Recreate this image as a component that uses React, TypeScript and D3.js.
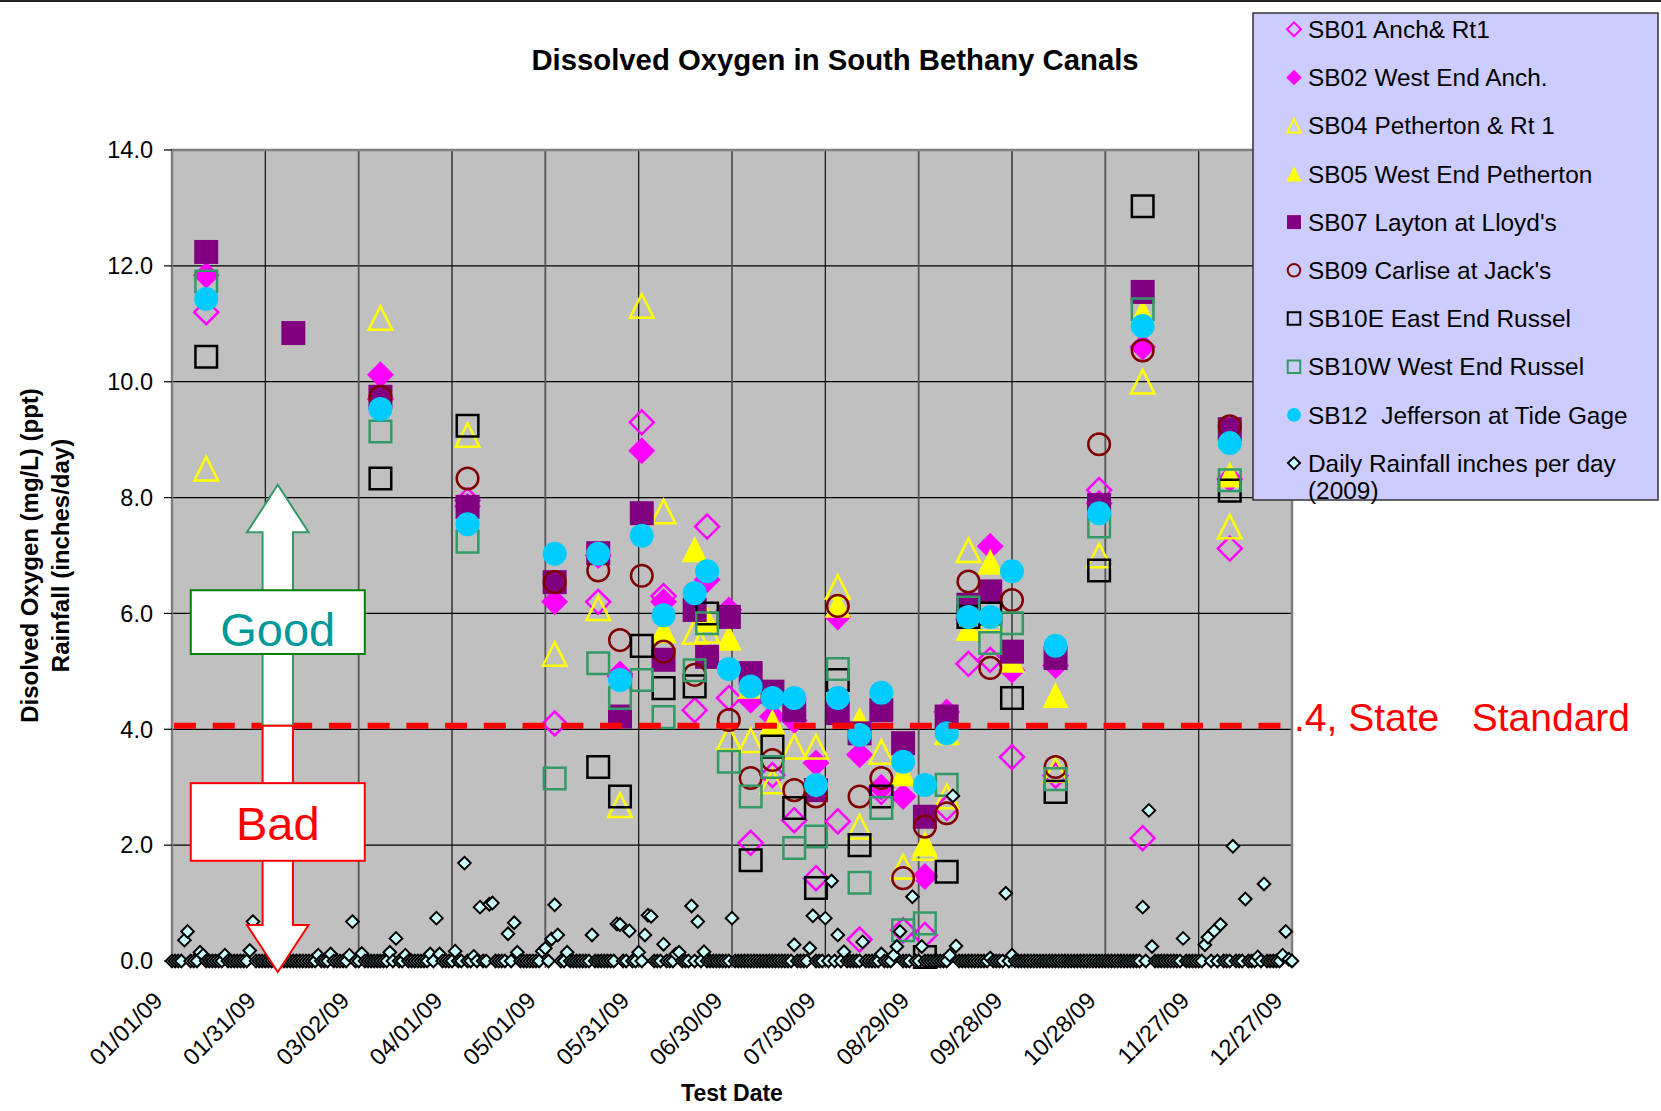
import { useEffect, useRef } from "react";
import * as d3 from "d3";

const WIDTH = 1661;
const HEIGHT = 1111;

// canal sampling dates
const sampleDates = [
  "2009-01-12", "2009-02-09", "2009-03-09", "2009-04-06", "2009-05-04",
  "2009-05-18", "2009-05-25", "2009-06-01", "2009-06-08", "2009-06-18",
  "2009-06-22", "2009-06-29", "2009-07-06", "2009-07-13", "2009-07-20",
  "2009-07-27", "2009-08-03", "2009-08-10", "2009-08-17", "2009-08-24",
  "2009-08-31", "2009-09-07", "2009-09-14", "2009-09-21", "2009-09-28",
  "2009-10-12", "2009-10-26", "2009-11-09", "2009-12-07",
];

// dissolved oxygen, mg/L (null = no reading)
const sb01 = [11.2, null, 9.7, 7.95, 4.1, 6.2, 4.95, 9.3, 6.3, 4.33, 7.5, 4.54, 2.04, 3.21, 2.43, 1.43, 2.41, 0.37, 2.92, 0.53, 0.45, 2.64, 5.13, 5.2, 3.52, 3.2, 8.13, 2.12, 7.12];
const sb02 = [11.84, null, 10.12, 7.85, 6.2, 7.0, 4.91, 8.81, 6.2, null, 6.58, 6.06, 4.5, 4.22, 4.15, 3.42, 5.94, 3.56, 3.0, 2.84, 1.46, 4.3, 5.9, 7.16, 5.02, 5.1, 7.9, 10.6, 8.32];
const sb04 = [8.5, null, 11.1, 9.08, 5.3, 6.09, 2.69, 11.31, 7.76, 5.68, 5.7, 3.85, 3.81, 3.1, 3.7, 3.7, 6.46, 2.32, 3.61, 1.63, 1.95, 2.84, 7.09, 5.9, null, 3.3, 7.0, 10.0, 7.5];
const sb05 = [null, null, null, null, null, null, null, null, 5.71, 7.11, 5.9, 5.58, 4.75, 4.13, null, null, 6.15, 4.16, 4.35, 3.24, 2.03, 3.95, 5.75, 6.89, 5.2, 4.59, null, 11.2, 8.4];
const sb07 = [12.24, 10.84, 9.74, 7.84, 6.54, 7.04, 4.22, 7.73, 5.2, 6.06, 5.25, 5.94, 4.97, 4.65, 4.33, 2.95, 4.28, 3.93, 4.33, 3.76, 2.49, 4.22, 6.15, 6.38, 5.34, 5.23, 7.87, 11.55, 9.18];
const sb09 = [null, null, 9.74, 8.33, 6.54, 6.74, 5.54, 6.65, 5.34, 4.94, null, 4.16, 3.16, 3.47, 2.95, 2.84, 6.13, 2.84, 3.16, 1.43, 2.32, 2.55, 6.55, 5.06, 6.23, 3.35, 8.92, 10.54, 9.23];
const sb10e = [10.43, null, 8.33, 9.24, null, 3.35, 2.84, 5.44, 4.71, 4.74, 6.0, null, 1.74, 3.7, 2.64, 1.26, 4.85, 2.0, 2.84, null, 0.07, 1.54, 5.94, 6.0, 4.54, 2.92, 6.74, 13.03, 8.12];
const sb10w = [11.73, null, 9.14, 7.24, 3.15, 5.14, 4.54, 4.85, 4.21, 5.02, 5.83, 3.44, 2.84, 3.35, 1.95, 2.15, 5.04, 1.35, 2.64, 0.53, 0.65, 3.04, 6.1, 5.49, 5.83, 3.14, 7.5, 11.25, 8.3];
const sb12 = [11.43, null, 9.53, 7.54, 7.03, 7.03, 4.85, 7.34, 5.97, 6.35, 6.73, 5.04, 4.74, 4.54, 4.54, 3.04, 4.54, 3.9, 4.63, 3.44, 3.04, 3.93, 5.94, 5.94, 6.73, 5.44, 7.73, 10.96, 8.94];

// daily rainfall 2009, inches per day, one array per month
const rainJan = [0, 0, 0, 0, 0.36, 0.51, 0, 0, 0, 0.15, 0.1, 0, 0, 0, 0, 0, 0, 0.1, 0, 0, 0, 0, 0, 0, 0, 0.18, 0.68, 0, 0, 0, 0];
const rainFeb = [0, 0, 0, 0, 0, 0, 0, 0, 0, 0, 0, 0, 0, 0, 0, 0, 0.1, 0, 0, 0, 0.12, 0, 0, 0, 0, 0, 0.1, 0.68];
const rainMar = [0, 0, 0.13, 0, 0, 0, 0, 0, 0, 0, 0, 0.15, 0, 0.39, 0, 0, 0.1, 0, 0, 0, 0, 0, 0, 0, 0.12, 0, 0.74, 0.12, 0, 0, 0];
const rainApr = [0, 0.17, 0, 0, 1.69, 0, 0, 0.08, 0, 0.93, 0, 0, 0.98, 1.0, 0, 0, 0, 0, 0.47, 0, 0.66, 0.15, 0, 0, 0, 0, 0, 0, 0, 0.17];
const rainMay = [0.22, 0, 0.38, 0.97, 0.45, 0, 0, 0.15, 0, 0, 0, 0, 0, 0, 0, 0.45, 0, 0, 0, 0, 0, 0, 0, 0.64, 0.63, 0, 0, 0.52, 0, 0, 0.15];
const rainJun = [0, 0.45, 0.79, 0.77, 0, 0, 0, 0.29, 0, 0, 0, 0.12, 0.15, 0, 0, 0, 0.95, 0, 0.68, 0, 0.16, 0, 0, 0, 0, 0, 0, 0, 0, 0.74];
const rainJul = [0, 0, 0, 0, 0, 0, 0, 0, 0, 0, 0, 0, 0, 0, 0, 0, 0, 0, 0, 0.28, 0, 0, 0, 0, 0.22, 0.78, 0, 0, 0, 0.74, 0];
const rainAug = [1.38, 0, 0.45, 0, 0.16, 0, 0, 0, 0, 0, 0.33, 0, 0, 0, 0, 0, 0.12, 0, 0, 0, 0.1, 0.25, 0.51, 0, 0, 0, 1.11, 0, 0, 0.25, 0];
const rainSep = [0, 0, 0, 0, 0, 0, 0, 0.1, 2.85, 0.26, 0, 0, 0, 0, 0, 0, 0, 0, 0, 0, 0.05, 0, 0, 0, 0, 1.17, 0, 0.1, 0, 0];
const rainOct = [0, 0, 0, 0, 0, 0, 0, 0, 0, 0, 0, 0, 0, 0, 0, 0, 0, 0, 0, 0, 0, 0, 0, 0, 0, 0, 0, 0, 0, 0, 0];
const rainNov = [0, 0, 0, 0, 0, 0, 0, 0, 0.93, 0, 2.6, 0.25, 0, 0, 0, 0, 0, 0, 0, 0, 0, 0.39, 0, 0, 0, 0, 0, 0, 0.28, 0.41];
const rainDec = [0, 0.52, 0, 0.63, 0, 0, 0, 1.98, 0, 0, 0, 1.07, 0, 0, 0, 0.07, 0, 1.33, 0, 0, 0, 0, 0, 0.1, 0.51, 0.03, 0, 0, 0, 0, 0];

const rainMonths = [rainJan, rainFeb, rainMar, rainApr, rainMay, rainJun, rainJul, rainAug, rainSep, rainOct, rainNov, rainDec];

const yTicks = [0, 2, 4, 6, 8, 10, 12, 14];
const stateStandard = 4.06;

type Shape = "diamond" | "triangle" | "square" | "circle";
type Series = { name: string; values: (number | null)[]; shape: Shape; color: string; filled: boolean };

const series: Series[] = [
  { name: "SB01 Anch& Rt1", values: sb01, shape: "diamond", color: "#ff00ff", filled: false },
  { name: "SB02 West End Anch.", values: sb02, shape: "diamond", color: "#ff00ff", filled: true },
  { name: "SB04 Petherton & Rt 1", values: sb04, shape: "triangle", color: "#ffff00", filled: false },
  { name: "SB05 West End Petherton", values: sb05, shape: "triangle", color: "#ffff00", filled: true },
  { name: "SB07 Layton at Lloyd's", values: sb07, shape: "square", color: "#800080", filled: true },
  { name: "SB09 Carlise at Jack's", values: sb09, shape: "circle", color: "#800000", filled: false },
  { name: "SB10E East End Russel", values: sb10e, shape: "square", color: "#000000", filled: false },
  { name: "SB10W West End Russel", values: sb10w, shape: "square", color: "#339966", filled: false },
  { name: "SB12  Jefferson at Tide Gage", values: sb12, shape: "circle", color: "#00ccff", filled: true },
];

const FONT = "'Liberation Sans', Arial, sans-serif";

// half-size of marker for each shape
const markerSize = (shape: Shape, filled: boolean) => {
  if (shape === "diamond") return filled ? 13.5 : 12;
  if (shape === "triangle") return filled ? 13 : 11.8;
  return filled ? 12 : 10.8;
};

const shapePath = (shape: Shape, r: number) => {
  if (shape === "diamond") return `M0,${-r}L${r},0L0,${r}L${-r},0Z`;
  if (shape === "triangle") return `M0,${-r}L${r},${r}L${-r},${r}Z`;
  if (shape === "square") return `M${-r},${-r}H${r}V${r}H${-r}Z`;
  const p = d3.path();
  p.arc(0, 0, r, 0, Math.PI * 2);
  p.closePath();
  return p.toString();
};

export default function App() {
  const svgRef = useRef<SVGSVGElement>(null);

  useEffect(() => {
    if (!svgRef.current) return;
    const svg = d3.select(svgRef.current);
    svg.selectAll("*").remove();

    const plot = { left: 172, top: 150, right: 1292, bottom: 961 };
    const xStart = new Date(Date.UTC(2009, 0, 1));
    const xEnd = new Date(Date.UTC(2009, 11, 27));
    const parse = d3.utcParse("%Y-%m-%d");

    const x = d3.scaleUtc().domain([xStart, xEnd]).range([plot.left, plot.right]);
    const y = d3.scaleLinear().domain([0, 14]).range([plot.bottom, plot.top]);
    const xTicks = d3.utcDay.range(xStart, d3.utcDay.offset(xEnd, 1), 30);

    svg.append("rect").attr("width", WIDTH).attr("height", HEIGHT).attr("fill", "#fff");
    svg.append("line")
      .attr("x1", 0).attr("x2", WIDTH).attr("y1", 1).attr("y2", 1)
      .attr("stroke", "#222").attr("stroke-width", 2);

    // Title
    svg.append("text")
      .attr("x", 835).attr("y", 70)
      .attr("text-anchor", "middle")
      .style("font-family", FONT).style("font-size", "29.3px").style("font-weight", "bold")
      .text("Dissolved Oxygen in South Bethany Canals");

    // Plot area
    svg.append("rect")
      .attr("x", plot.left).attr("y", plot.top)
      .attr("width", plot.right - plot.left).attr("height", plot.bottom - plot.top)
      .attr("fill", "#c0c0c0");

    const grid = svg.append("g");
    grid.selectAll("line.h")
      .data(yTicks.filter((d) => d > 0 && d < 14))
      .join("line")
      .attr("x1", plot.left).attr("x2", plot.right)
      .attr("y1", (d) => y(d)).attr("y2", (d) => y(d))
      .attr("stroke", "#000").attr("stroke-width", 1.2);
    grid.selectAll("line.v")
      .data(xTicks.slice(1, -1))
      .join("line")
      .attr("x1", (d) => x(d)).attr("x2", (d) => x(d))
      .attr("y1", plot.top).attr("y2", plot.bottom)
      .attr("stroke", (_, i) => (i % 2 === 0 ? "#111" : "#555"))
      .attr("stroke-width", (_, i) => (i % 2 === 0 ? 1.2 : 1.8));

    svg.append("rect")
      .attr("x", plot.left).attr("y", plot.top)
      .attr("width", plot.right - plot.left).attr("height", plot.bottom - plot.top)
      .attr("fill", "none").attr("stroke", "#808080").attr("stroke-width", 2.5);
    svg.append("line")
      .attr("x1", plot.left).attr("x2", plot.right)
      .attr("y1", plot.bottom).attr("y2", plot.bottom)
      .attr("stroke", "#000").attr("stroke-width", 1.2);

    // Y axis
    const yAxis = svg.append("g");
    yAxis.selectAll("line")
      .data(yTicks)
      .join("line")
      .attr("x1", plot.left - 8).attr("x2", plot.left)
      .attr("y1", (d) => y(d)).attr("y2", (d) => y(d))
      .attr("stroke", "#000").attr("stroke-width", 1.2);
    yAxis.selectAll("text")
      .data(yTicks)
      .join("text")
      .attr("x", 153).attr("y", (d) => y(d))
      .attr("dy", "0.35em")
      .attr("text-anchor", "end")
      .style("font-family", FONT).style("font-size", "23.5px")
      .text((d) => d3.format(".1f")(d));

    // X axis
    const xAxis = svg.append("g");
    xAxis.selectAll("line")
      .data(xTicks)
      .join("line")
      .attr("x1", (d) => x(d)).attr("x2", (d) => x(d))
      .attr("y1", plot.bottom).attr("y2", plot.bottom + 7)
      .attr("stroke", "#555").attr("stroke-width", 1.5);
    xAxis.selectAll("text")
      .data(xTicks)
      .join("text")
      .attr("transform", (d) => `translate(${x(d) - 8},1002) rotate(-45)`)
      .attr("text-anchor", "end")
      .style("font-family", FONT).style("font-size", "23.5px")
      .text((d) => d3.utcFormat("%m/%d/%y")(d));

    // Axis titles
    svg.append("text")
      .attr("x", 732).attr("y", 1101)
      .attr("text-anchor", "middle")
      .style("font-family", FONT).style("font-size", "23px").style("font-weight", "bold")
      .text("Test Date");
    const yTitle = svg.append("g").attr("transform", `translate(0,${(plot.top + plot.bottom) / 2}) rotate(-90)`);
    yTitle.append("text")
      .attr("x", 0).attr("y", 38)
      .attr("text-anchor", "middle")
      .style("font-family", FONT).style("font-size", "24px").style("font-weight", "bold")
      .text("Disolved Oxygen (mg/L) (ppt)");
    yTitle.append("text")
      .attr("x", 0).attr("y", 69)
      .attr("text-anchor", "middle")
      .style("font-family", FONT).style("font-size", "24px").style("font-weight", "bold")
      .text("Rainfall (inches/day)");

    // DO series
    const dates = sampleDates.map((s) => parse(s) as Date);
    series.forEach((s) => {
      const pts = s.values
        .map((v, i) => ({ date: dates[i], value: v }))
        .filter((d) => d.value !== null) as { date: Date; value: number }[];
      const r = markerSize(s.shape, s.filled);
      svg.append("g")
        .selectAll("path")
        .data(pts)
        .join("path")
        .attr("transform", (d) => `translate(${x(d.date)},${y(d.value)})`)
        .attr("d", shapePath(s.shape, r))
        .attr("fill", s.filled ? s.color : "none")
        .attr("stroke", s.filled ? "none" : s.color)
        .attr("stroke-width", 2.5);
    });

    // Rainfall
    const rain: { date: Date; value: number }[] = [];
    rainMonths.forEach((month, m) => {
      month.forEach((v, i) => {
        const date = new Date(Date.UTC(2009, m, i + 1));
        if (date <= xEnd) rain.push({ date, value: v });
      });
    });
    svg.append("g")
      .selectAll("path")
      .data(rain)
      .join("path")
      .attr("transform", (d) => `translate(${x(d.date)},${y(d.value)})`)
      .attr("d", shapePath("diamond", 6.3))
      .attr("fill", "#ccffff")
      .attr("stroke", "#000")
      .attr("stroke-width", 2);

    // State standard
    svg.append("line")
      .attr("x1", 174).attr("x2", 1296)
      .attr("y1", y(stateStandard)).attr("y2", y(stateStandard))
      .attr("stroke", "#ff0000").attr("stroke-width", 6)
      .attr("stroke-dasharray", "22,16.73");
    svg.append("text")
      .attr("x", 1294).attr("y", y(stateStandard) + 5)
      .attr("fill", "#ff0000")
      .style("font-family", FONT).style("font-size", "39px")
      .style("white-space", "pre")
      .text(".4, State   Standard");

    // Good / Bad arrows
    const ax = x(new Date(Date.UTC(2009, 1, 4)));
    const shaft = 15.2;
    const head = 30.8;
    const upTip = y(8.22);
    const upBase = y(7.4);
    const line = y(stateStandard);
    svg.append("path")
      .attr("d", `M${ax},${upTip}L${ax + head},${upBase}L${ax + shaft},${upBase}L${ax + shaft},${line}L${ax - shaft},${line}L${ax - shaft},${upBase}L${ax - head},${upBase}Z`)
      .attr("fill", "#fff").attr("stroke", "#339966").attr("stroke-width", 2);
    const downBase = y(0.62);
    const downTip = y(-0.19);
    svg.append("path")
      .attr("d", `M${ax - shaft},${line}L${ax + shaft},${line}L${ax + shaft},${downBase}L${ax + head},${downBase}L${ax},${downTip}L${ax - head},${downBase}L${ax - shaft},${downBase}Z`)
      .attr("fill", "#fff").attr("stroke", "#ff0000").attr("stroke-width", 2);

    const boxHalf = 87;
    svg.append("rect")
      .attr("x", ax - boxHalf).attr("y", y(6.4))
      .attr("width", boxHalf * 2).attr("height", y(5.3) - y(6.4))
      .attr("fill", "#fff").attr("stroke", "#008000").attr("stroke-width", 2);
    svg.append("text")
      .attr("x", ax).attr("y", y(5.3) - 8)
      .attr("text-anchor", "middle")
      .attr("fill", "#009999")
      .style("font-family", FONT).style("font-size", "47px")
      .text("Good");
    svg.append("rect")
      .attr("x", ax - boxHalf).attr("y", y(3.07))
      .attr("width", boxHalf * 2).attr("height", y(1.73) - y(3.07))
      .attr("fill", "#fff").attr("stroke", "#ff0000").attr("stroke-width", 2);
    svg.append("text")
      .attr("x", ax).attr("y", y(1.73) - 21)
      .attr("text-anchor", "middle")
      .attr("fill", "#ff0000")
      .style("font-family", FONT).style("font-size", "47px")
      .text("Bad");

    // Legend
    const legend = svg.append("g").attr("transform", "translate(1253,13)");
    legend.append("rect")
      .attr("width", 405).attr("height", 487)
      .attr("fill", "#ccccff").attr("stroke", "#333").attr("stroke-width", 1.5);
    const rowY = (i: number) => 16.3 + i * 48.2;
    series.forEach((s, i) => {
      const r = markerSize(s.shape, s.filled) * 0.58;
      legend.append("path")
        .attr("transform", `translate(41,${rowY(i)})`)
        .attr("d", shapePath(s.shape, r))
        .attr("fill", s.filled ? s.color : "none")
        .attr("stroke", s.filled ? "none" : s.color)
        .attr("stroke-width", 2);
      legend.append("text")
        .attr("x", 55).attr("y", rowY(i))
        .attr("dy", "0.36em")
        .style("font-family", FONT).style("font-size", "24.4px")
        .style("white-space", "pre")
        .text(s.name);
    });
    const rainRow = series.length;
    legend.append("path")
      .attr("transform", `translate(41,${rowY(rainRow)})`)
      .attr("d", shapePath("diamond", 6))
      .attr("fill", "#ccffff").attr("stroke", "#000").attr("stroke-width", 2);
    legend.append("text")
      .attr("x", 55).attr("y", rowY(rainRow))
      .attr("dy", "0.36em")
      .style("font-family", FONT).style("font-size", "24.4px")
      .text("Daily Rainfall inches per day");
    legend.append("text")
      .attr("x", 55).attr("y", rowY(rainRow) + 27)
      .attr("dy", "0.36em")
      .style("font-family", FONT).style("font-size", "24.4px")
      .text("(2009)");
  }, []);

  return (
    <svg
      ref={svgRef}
      width={WIDTH}
      height={HEIGHT}
      style={{ position: "absolute", left: 0, top: 0, display: "block" }}
    />
  );
}
